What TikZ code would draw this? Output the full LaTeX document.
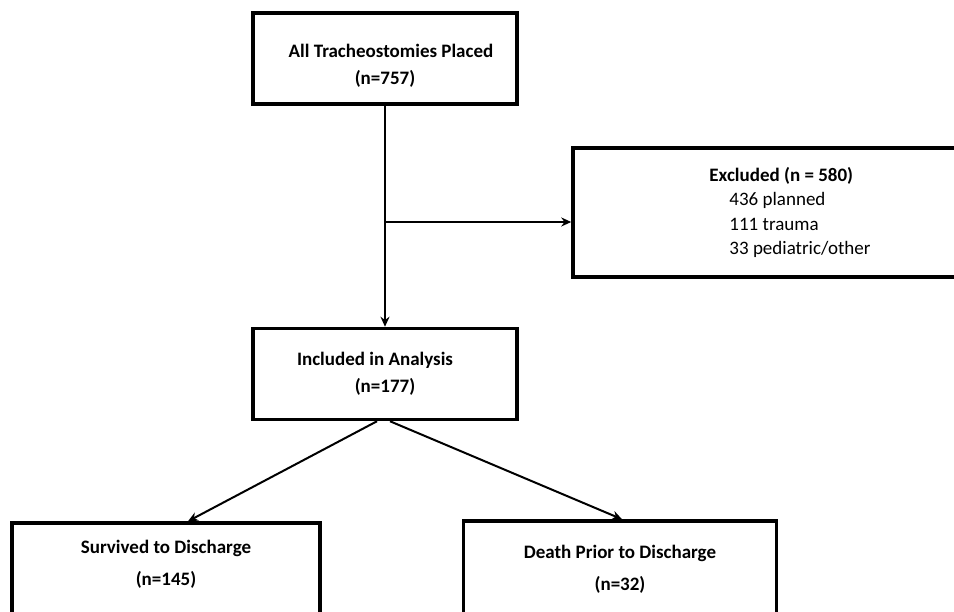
\documentclass[tikz,border=0pt]{standalone}
\usepackage{fontspec}
\setmainfont{Carlito}
\usetikzlibrary{arrows.meta, positioning, calc}

\begin{document}
\begin{tikzpicture}[x=1pt, y=-1pt, >={Stealth[length=10pt,width=9pt]}, semithick,
		box/.style={draw, line width=3.5pt, minimum width=264pt, minimum height=91pt, align=center, inner sep=0pt, font=\fontsize{19}{27}\selectfont\bfseries},
		link/.style={->, line width=2pt}]
			\useasboundingbox (0,0) rectangle (954,612);
			\clip (0,0) rectangle (954,612);
			
			\node[box] (placed) at (385,58.5) {\rule{0pt}{27pt}\hspace*{12pt}All Tracheostomies Placed\\(n=757)};
			\node[box] (included) at (385,374) {\hspace*{-20pt}Included in Analysis\\(n=177)};
			\node[box, minimum width=434pt, minimum height=129pt, align=left, font=\fontsize{19}{24.5}\selectfont] (excluded) at (790,212.5)
				{\textbf{Excluded (n = 580)}\\\hspace*{20pt}436 planned\\\hspace*{20pt}111 trauma\\\hspace*{20pt}33 pediatric/other};
			\node[box, minimum width=308pt, minimum height=130pt, text depth=50pt] (survived) at (166,588) {Survived to Discharge\\[5pt](n=145)};
			\node[box, minimum width=313pt, minimum height=130pt, text depth=36pt] (death) at (620,586) {Death Prior to Discharge\\[5pt](n=32)};
			
			\coordinate (split) at (385,222);
			
			\path
			(placed) edge[link] (included)
			(split) edge[link] (split -| excluded.west)
			([xshift=-8pt]included.south) edge[link] ([xshift=22pt]survived.north)
			([xshift=5pt]included.south) edge[link] ([xshift=2pt]death.north);
		\end{tikzpicture}
\end{document}
